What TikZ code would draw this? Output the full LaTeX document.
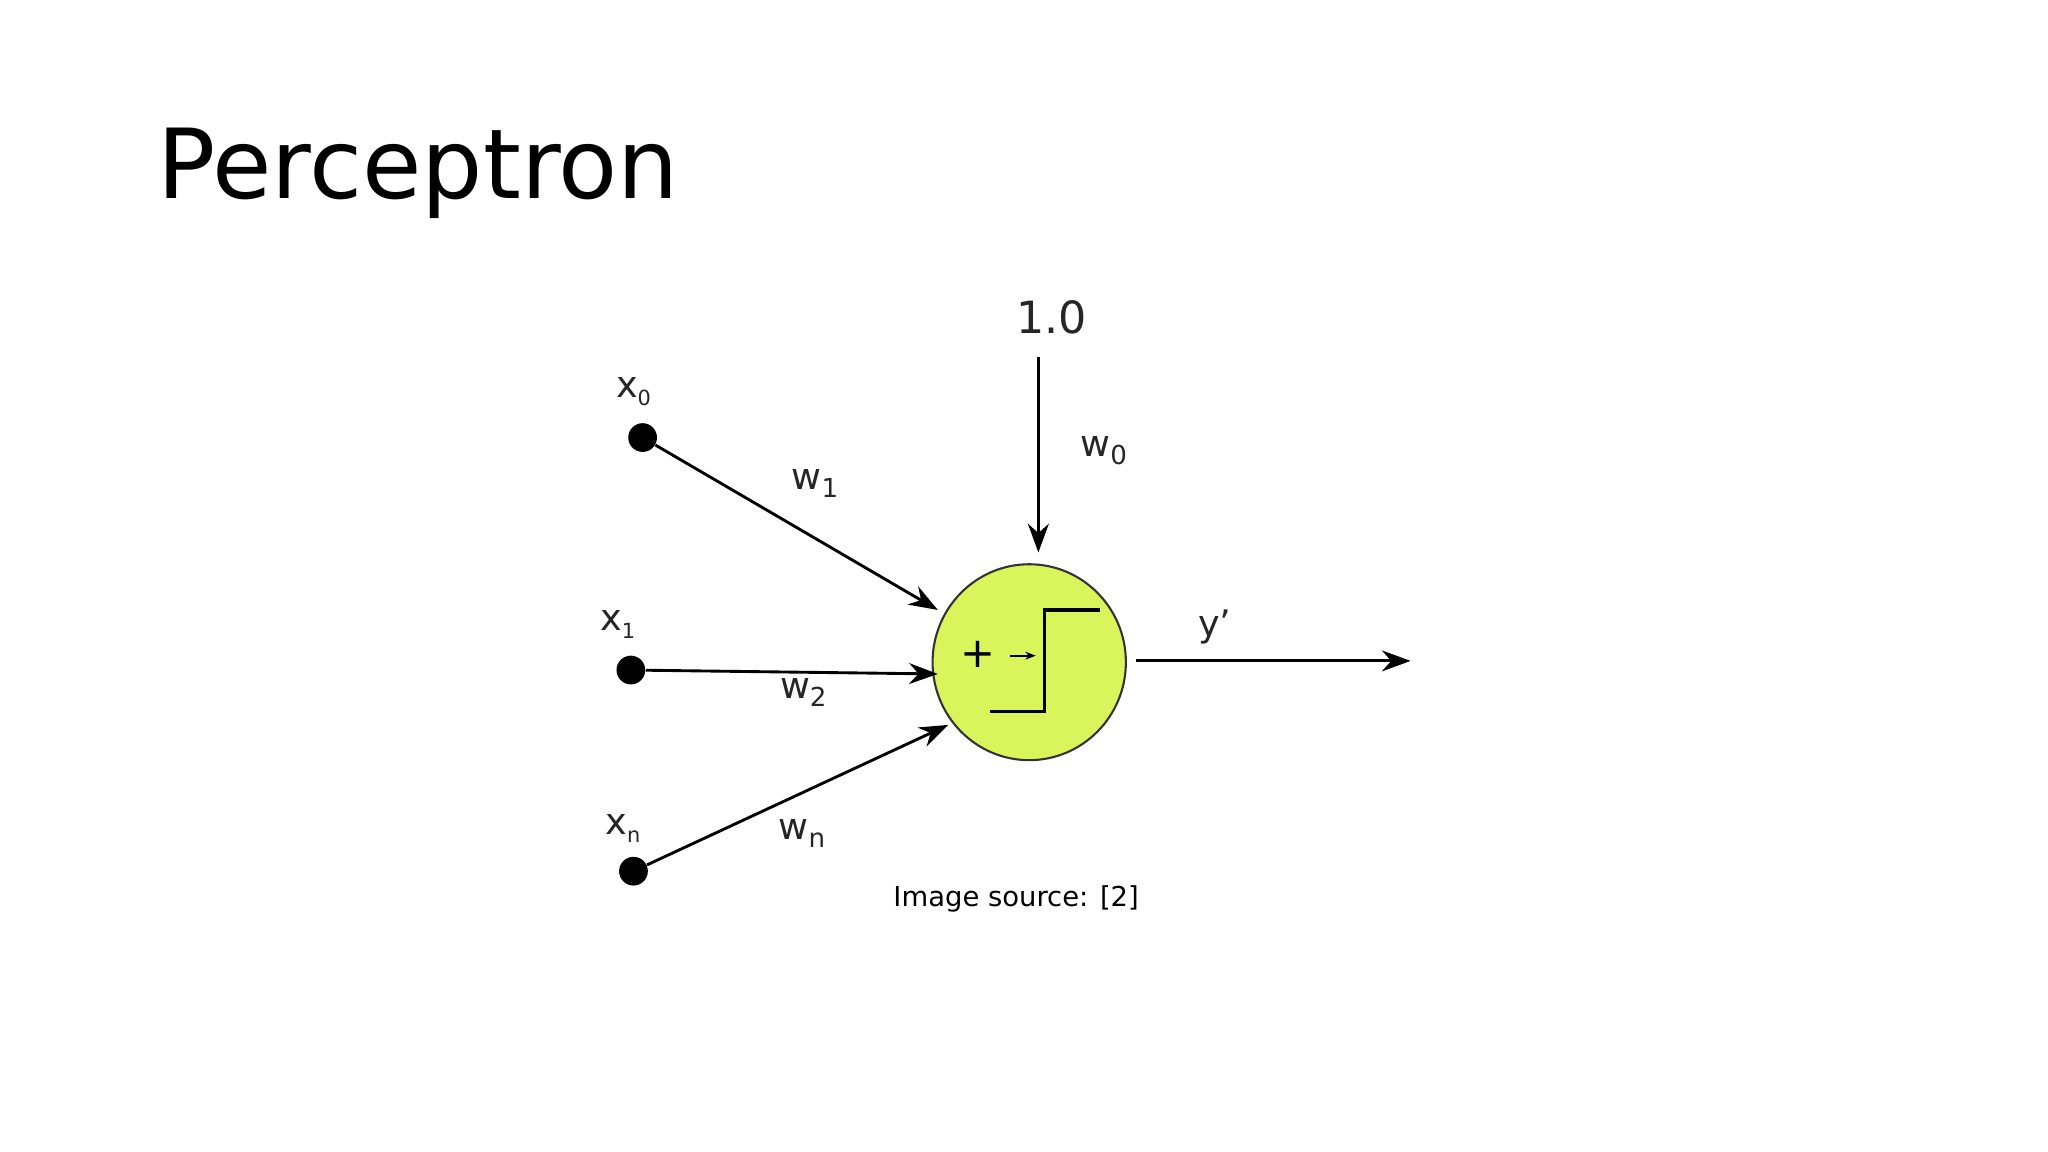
\documentclass[tikz,border=0pt]{standalone}
\usepackage{fontspec}
\setmainfont{DejaVu Sans}
\usetikzlibrary{arrows.meta,shapes.geometric}
\definecolor{neuron}{HTML}{DAF55C}
\begin{document}
\begin{tikzpicture}[x=0.5pt,y=-0.5pt,
  dot/.style={circle,fill=black,inner sep=0pt,minimum size=11pt},
  conn/.style={line width=1.1pt,-{Stealth[length=11pt,width=8pt]}},
  lab/.style={font=\fontsize{14}{14}\selectfont,text=black!85},
  sub/.style={font=\fontsize{8}{8}\selectfont}]
\useasboundingbox (0,0) rectangle (1568,882);
\node[anchor=base west,font=\fontsize{37}{37}\selectfont,inner sep=0] (title) at (120,152) {Perceptron};
\node[dot] (x0) at (492,335) {};
\node[dot] (x1) at (483,513) {};
\node[dot] (xn) at (485,667) {};
\node[lab] (lx0) at (485,300) {x\raisebox{-3pt}{\fontsize{8}{8}\selectfont 0}};
\node[lab] (lx1) at (473,478) {x\raisebox{-3pt}{\fontsize{8}{8}\selectfont 1}};
\node[lab] (lxn) at (477,634) {x\raisebox{-3pt}{\fontsize{8}{8}\selectfont n}};
\node[draw=black!80,line width=0.8pt,fill=neuron,ellipse,minimum width=74pt,minimum height=75pt,inner sep=0] (n) at (788,507) {};
\coordinate (a0) at (718,467);
\coordinate (a1) at (718,516);
\coordinate (an) at (726,555);
\draw[conn] (x0) -- (a0);
\draw[conn] (x1) -- (a1);
\draw[conn] (xn) -- (an);
\node[font=\fontsize{17}{17}\selectfont,text=black!85] (one) at (805,243) {1.0};
\coordinate (t0) at (795,273);
\coordinate (t1) at (795,423);
\draw[conn] (t0) -- (t1);
\coordinate (o0) at (870,506);
\coordinate (o1) at (1080,506);
\draw[conn] (o0) -- (o1);
\node[lab] (w1) at (624,370) {w\raisebox{-3pt}{\fontsize{10}{10}\selectfont 1}};
\node[lab] (w2) at (615,530) {w\raisebox{-3pt}{\fontsize{10}{10}\selectfont 2}};
\node[lab] (wn) at (614,638) {w\raisebox{-3pt}{\fontsize{10}{10}\selectfont n}};
\node[lab] (w0) at (845,345) {w\raisebox{-3pt}{\fontsize{10}{10}\selectfont 0}};
\node[lab] (y) at (930,480) {y'};
\draw[line width=1.2pt] (758,545) -- (800,545) -- (800,467) -- (842,467);
\node[font=\fontsize{16}{16}\selectfont] (plus) at (749,501) {+};
\draw[line width=0.8pt,-{Stealth[length=4pt,width=3pt]}] (773,502) -- (793,502);
\node[font=\fontsize{10.5}{10.5}\selectfont] (src) at (778,688) {Image source: [2]};
\end{tikzpicture}
\end{document}
